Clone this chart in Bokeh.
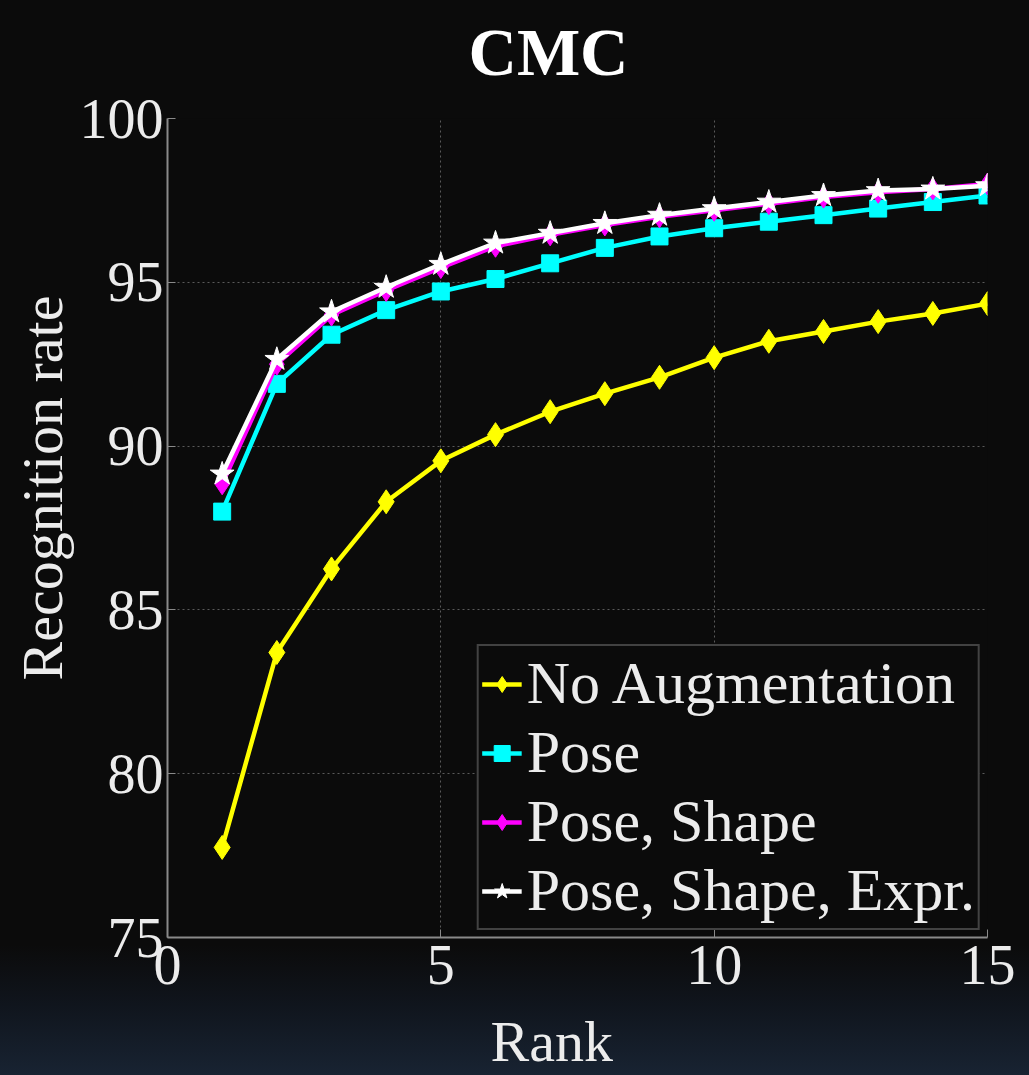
from bokeh.plotting import figure
from bokeh.embed import file_html
from bokeh.resources import INLINE
from bokeh.models import Range1d, FixedTicker, GlobalInlineStyleSheet, Title

# ---- data ----
rank = list(range(1, 16))
no_aug = [77.75, 83.7, 86.25, 88.3, 89.55, 90.35, 91.05, 91.6, 92.1, 92.7, 93.2, 93.5, 93.8, 94.05, 94.35]
pose = [88.0, 91.9, 93.4, 94.15, 94.72, 95.1, 95.58, 96.05, 96.4, 96.65, 96.85, 97.05, 97.25, 97.45, 97.65]
pose_shape = [88.85, 92.5, 94.0, 94.75, 95.45, 96.1, 96.45, 96.75, 97.0, 97.2, 97.4, 97.6, 97.75, 97.85, 98.0]
pose_shape_expr = [89.15, 92.65, 94.1, 94.85, 95.55, 96.2, 96.5, 96.8, 97.05, 97.25, 97.45, 97.65, 97.8, 97.85, 97.95]

series_names = ["No Augmentation", "Pose", "Pose, Shape", "Pose, Shape, Expr."]
series_values = [no_aug, pose, pose_shape, pose_shape_expr]
x_ticks = [0, 5, 10, 15]
y_ticks = [75, 80, 85, 90, 95, 100]
title_text = "CMC"
x_label = "Rank"
y_label = "Recognition rate"

colors = ["#ffff00", "#00ffff", "#ff00ff", "#ffffff"]
markers = ["diamond", "square", "diamond", "star"]
msizes = [24, 17, 22, 25]

FONT = "Liberation Serif"
TXT = "#ececec"

p = figure(width=1029, height=1075, output_backend="svg", toolbar_location=None,
           x_range=Range1d(0, 15), y_range=Range1d(75, 100),
           min_border_left=167, min_border_right=42,
           min_border_top=118, min_border_bottom=138)

p.stylesheets = [GlobalInlineStyleSheet(css="html, body {margin:0; padding:0; overflow:hidden; background: linear-gradient(to bottom, #0b0b0b 0px, #0b0b0b 945px, #10151d 1005px, #182332 1075px) no-repeat; background-color:#182332; min-height:1075px;}")]

p.border_fill_alpha = 0
p.background_fill_color = "#0b0b0b"
p.outline_line_color = None

# title: an empty second line with a tight line height lifts the text away from the frame
p.add_layout(Title(text=title_text + "\n", align="left", offset=301, standoff=0,
                   text_line_height=0.4,
                   text_font=FONT, text_font_size="67px", text_font_style="bold",
                   text_color="#ffffff"), "above")

for ax in (p.xaxis[0], p.yaxis[0]):
    ax.axis_line_color = "#8a8a8a"
    ax.axis_line_width = 2
    ax.major_tick_in = 8
    ax.major_tick_out = 0
    ax.major_tick_line_color = "#8a8a8a"
    ax.minor_tick_line_color = None
    ax.major_label_text_font = FONT
    ax.major_label_text_font_size = "56px"
    ax.major_label_text_color = TXT

p.xaxis.ticker = FixedTicker(ticks=x_ticks)
p.yaxis.ticker = FixedTicker(ticks=y_ticks)
p.xaxis.major_label_standoff = 8
p.yaxis.major_label_standoff = 4

# axis titles as side titles, offset along the axis as in the reference
p.add_layout(Title(text="\n" + x_label, align="left", offset=323, standoff=0,
                   text_line_height=0.3,
                   text_font=FONT, text_font_size="58px", text_font_style="normal",
                   text_color=TXT), "below")
p.add_layout(Title(text=y_label, align="left", offset=257, standoff=4,
                   text_font=FONT, text_font_size="58px", text_font_style="normal",
                   text_color=TXT), "left")

p.grid.grid_line_color = "#5a5a5a"
p.grid.grid_line_dash = "2 3"
p.grid.grid_line_width = 1

for name, vals, c, m, s in zip(series_names, series_values, colors, markers, msizes):
    p.line(rank, vals, line_color=c, line_width=4.5, legend_label=name)
    p.scatter(rank, vals, marker=m, size=s, fill_color=c, line_color=c, legend_label=name)

lg = p.legend[0]
lg.location = "bottom_right"
lg.margin = 7
lg.padding = 3
lg.spacing = 0
lg.glyph_width = 40
lg.glyph_height = 40
lg.label_height = 60
lg.label_standoff = 5
lg.label_text_font = FONT
lg.label_text_font_size = "60px"
lg.label_text_color = TXT
lg.background_fill_color = "#0b0b0b"
lg.background_fill_alpha = 1
lg.border_line_color = "#7a7a7a"
lg.border_line_width = 2

open("out.html", "w").write(file_html(p, INLINE))
